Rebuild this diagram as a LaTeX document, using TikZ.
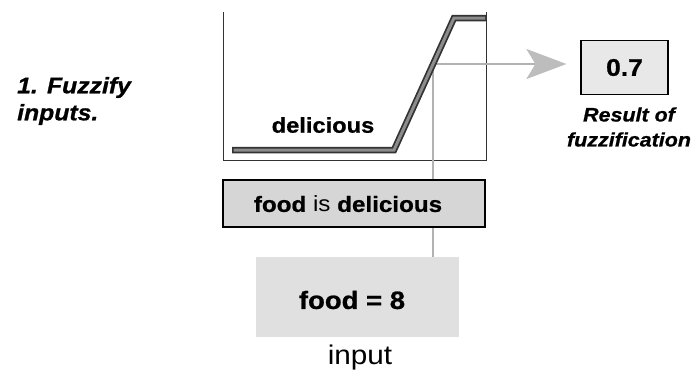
\documentclass[tikz,border=0pt]{standalone}
\usepackage{fontspec}
\setmainfont[FakeStretch=1.1, BoldFeatures={FakeBold=0.8}, BoldItalicFeatures={FakeBold=0.8}]{Liberation Sans}
\usetikzlibrary{arrows.meta}
\definecolor{curvegray}{gray}{0.55}
\definecolor{linegray}{gray}{0.7}
\definecolor{headgray}{gray}{0.74}
\definecolor{boxgray}{gray}{0.84}
\definecolor{inboxgray}{gray}{0.88}
\definecolor{boxlight}{gray}{0.91}
\tikzset{
  axisline/.style={draw=black!80, line width=0.8pt},
  valueline/.style={draw=linegray, line width=2pt},
  titletext/.style={font=\bfseries\itshape\fontsize{22.5}{27}\selectfont, align=left, inner sep=0pt},
  resulttext/.style={font=\bfseries\itshape\fontsize{19.5}{25}\selectfont, align=center, inner sep=0pt},
  labeltext/.style={font=\bfseries\fontsize{21.5}{24}\selectfont, inner sep=0pt},
  rulebox/.style={draw=black, line width=1.4pt, fill=boxgray, minimum width=262pt, minimum height=47pt, inner sep=0pt},
  valbox/.style={draw=black, line width=1.2pt, fill=boxlight, minimum width=87pt, minimum height=54pt, inner sep=0pt},
  inbox/.style={fill=inboxgray, minimum width=203pt, minimum height=80pt, inner sep=0pt},
}
\begin{document}
\begin{tikzpicture}[x=1pt, y=-1pt]
\useasboundingbox (0,0) rectangle (697,376);
% plot frame
\draw[axisline] (223,12) -- (223,160) -- (486,160) -- (486,12);
% boxes
\node[valbox] (val) at (624.5,67.5) {\bfseries\fontsize{24}{28}\selectfont 0.7};
\node[inbox] (in) at (357.5,297) {};
\node[font=\bfseries\fontsize{25}{28}\selectfont, inner sep=0pt] (inlabel) at (352,300) {food = 8};
% membership point
\coordinate (cv) at (433,64);
% value lines
\draw[valueline] (cv) -- (cv |- in.north);
\draw[valueline, -{Stealth[length=40pt, width=30pt, inset=9pt, fill=headgray, color=headgray]}, shorten >=14pt] (cv) -- (val.west |- cv);
% membership curve
\draw[black!80, line width=6.5pt, line join=miter] (232,150) -- (394,150) -- (454,18) -- (486,18);
\draw[curvegray, line width=3pt, line join=miter] (233.5,150) -- (394,150) -- (454,18) -- (485,18);
% rule box
\node[rulebox] (rule) at (354,203.5) {};
\node[font=\fontsize{22}{26}\selectfont, inner sep=0pt] (rulelabel) at (348,204) {\textbf{food} is \textbf{delicious}};
% texts
\node[labeltext] (deli) at (323,125) {delicious};
\node[titletext, anchor=west] (title) at (17,101) {1. Fuzzify\\inputs.};
\node[resulttext] (res) at (629,127) {Result of\\fuzzification};
\node[font=\fontsize{27}{29}\selectfont, inner sep=0pt] (input) at (360,358) {input};
\end{tikzpicture}
\end{document}
